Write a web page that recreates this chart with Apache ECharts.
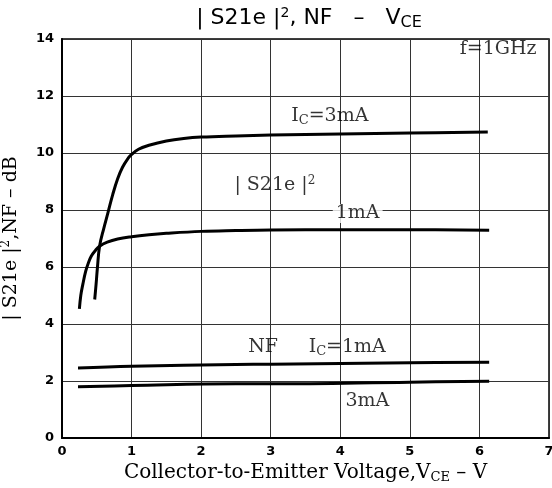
<!DOCTYPE html>
<html>
<head>
<meta charset="utf-8">
<script src="https://cdn.jsdelivr.net/npm/echarts@6/dist/echarts.min.js"></script>
<style>
  html, body { margin: 0; padding: 0; background: #fff; }
  #chart { width: 552px; height: 488px; }
</style>
</head>
<body>
<div id="chart"></div>
<script>
// Forward gain |S21e|^2 and noise figure vs collector-emitter voltage, f = 1 GHz
const xTicks = [0, 1, 2, 3, 4, 5, 6, 7];
const yTicks = [0, 2, 4, 6, 8, 10, 12, 14];

// |S21e|^2 at Ic = 3 mA  [VCE (V), dB]
const gain3mA = [
  [0.47, 4.86], [0.49, 5.40], [0.51, 6.00], [0.54, 6.73], [0.60, 7.35],
  [0.66, 7.90], [0.73, 8.55], [0.80, 9.10], [0.87, 9.50], [0.94, 9.78],
  [1.00, 9.95], [1.10, 10.13], [1.25, 10.27], [1.50, 10.42], [1.75, 10.51],
  [2.00, 10.56], [2.50, 10.60], [3.00, 10.63], [4.00, 10.67], [5.00, 10.70],
  [6.12, 10.74]
];
// |S21e|^2 at Ic = 1 mA
const gain1mA = [
  [0.25, 4.53], [0.27, 5.00], [0.30, 5.40], [0.34, 5.85], [0.38, 6.15],
  [0.42, 6.38], [0.48, 6.58], [0.54, 6.73], [0.65, 6.87], [0.80, 6.98],
  [1.00, 7.06], [1.25, 7.13], [1.50, 7.18], [2.00, 7.25], [2.50, 7.28],
  [3.00, 7.30], [4.00, 7.31], [5.00, 7.31], [6.14, 7.29]
];
// NF at Ic = 1 mA
const nf1mA = [
  [0.23, 2.46], [1.00, 2.52], [2.50, 2.58], [3.00, 2.59], [5.00, 2.64], [6.14, 2.66]
];
// NF at Ic = 3 mA
const nf3mA = [
  [0.23, 1.80], [1.00, 1.84], [2.50, 1.90], [3.00, 1.90], [5.00, 1.96], [6.14, 1.99]
];

// Curve captions, anchored in data coordinates
const notes = [
  { text: 'I{sub|C}=3mA', at: [3.85, 11.30] },
  { text: '| S21e |{sup|2}', at: [3.06, 8.86] },
  { text: '{bg|1mA}', at: [4.25, 7.88] },
  { text: 'NF', at: [2.89, 3.19] },
  { text: 'I{sub|C}=1mA', at: [4.10, 3.19] },
  { text: '3mA', at: [4.39, 1.30] },
  { text: 'f=1GHz', at: [6.27, 13.63] }
];

const serif = 'DejaVu Serif';
const sans = 'DejaVu Sans';

const curveStyle = { color: '#000', width: 3 };
function curve(name, data) {
  return {
    name, type: 'line', data, smooth: 0.4,
    symbol: 'none', lineStyle: curveStyle, silent: true, z: 3
  };
}

const noteRich = {
  sub: { fontFamily: serif, fontSize: 13, color: '#000', padding: [9, 0, 0, 0] },
  sup: { fontFamily: serif, fontSize: 12, color: '#000', padding: [0, 0, 10, 0] },
  bg: { fontFamily: serif, fontSize: 19, color: '#000', backgroundColor: '#fff', padding: [0, 3] }
};

const chart = echarts.init(document.getElementById('chart'), null, { renderer: 'canvas' });
chart.setOption({
  animation: false,
  backgroundColor: '#fff',
  title: {
    text: '| S21e |{sup|2}, NF   –   V{sub|CE}',
    left: 304, top: 1, textAlign: 'center',
    textStyle: {
      fontFamily: sans, fontSize: 22, fontWeight: 'normal', color: '#000',
      rich: {
        sup: { fontFamily: sans, fontSize: 14, color: '#000', padding: [0, 0, 11, 0] },
        sub: { fontFamily: sans, fontSize: 16, color: '#000', padding: [9, 0, 0, 0] }
      }
    }
  },
  grid: {
    left: 62, right: 3, top: 39, bottom: 50,
    outerBoundsMode: 'none', containLabel: false,
    show: true, borderColor: '#000', borderWidth: 1.5
  },
  xAxis: {
    type: 'value', min: xTicks[0], max: xTicks[xTicks.length - 1], interval: 1,
    axisLine: { show: true, lineStyle: { color: '#000', width: 2 } },
    axisTick: { show: false },
    splitLine: { show: true, lineStyle: { color: '#333', width: 1 } },
    axisLabel: { color: '#000', fontFamily: sans, fontWeight: 'bold', fontSize: 13, margin: 7 },
    name: 'Collector-to-Emitter Voltage,V{sub|CE} – V',
    nameLocation: 'middle', nameGap: 21,
    nameTextStyle: {
      fontFamily: serif, fontSize: 20, color: '#000', verticalAlign: 'top',
      rich: { sub: { fontFamily: serif, fontSize: 13, color: '#000', padding: [9, 0, 0, 0] } }
    }
  },
  yAxis: {
    type: 'value', min: yTicks[0], max: yTicks[yTicks.length - 1], interval: 2,
    axisLine: { show: true, lineStyle: { color: '#000', width: 2 } },
    axisTick: { show: false },
    splitLine: { show: true, lineStyle: { color: '#333', width: 1 } },
    axisLabel: { color: '#000', fontFamily: sans, fontWeight: 'bold', fontSize: 13, margin: 8 },
    name: '| S21e |{sup|2},NF – dB',
    nameLocation: 'middle', nameGap: 40, nameRotate: 90,
    nameTextStyle: {
      fontFamily: serif, fontSize: 19, color: '#000',
      rich: { sup: { fontFamily: serif, fontSize: 12, color: '#000', padding: [0, 0, 10, 0] } }
    }
  },
  series: [
    curve('|S21e|² 3mA', gain3mA),
    curve('|S21e|² 1mA', gain1mA),
    curve('NF 1mA', nf1mA),
    curve('NF 3mA', nf3mA),
    {
      name: 'notes', type: 'scatter', symbolSize: 0, silent: true, z: 5,
      data: notes.map(n => ({ value: n.at, label: { formatter: n.text } })),
      label: {
        show: true, position: 'inside', color: '#000',
        fontFamily: serif, fontSize: 19, rich: noteRich
      }
    }
  ]
});
</script>
</body>
</html>
